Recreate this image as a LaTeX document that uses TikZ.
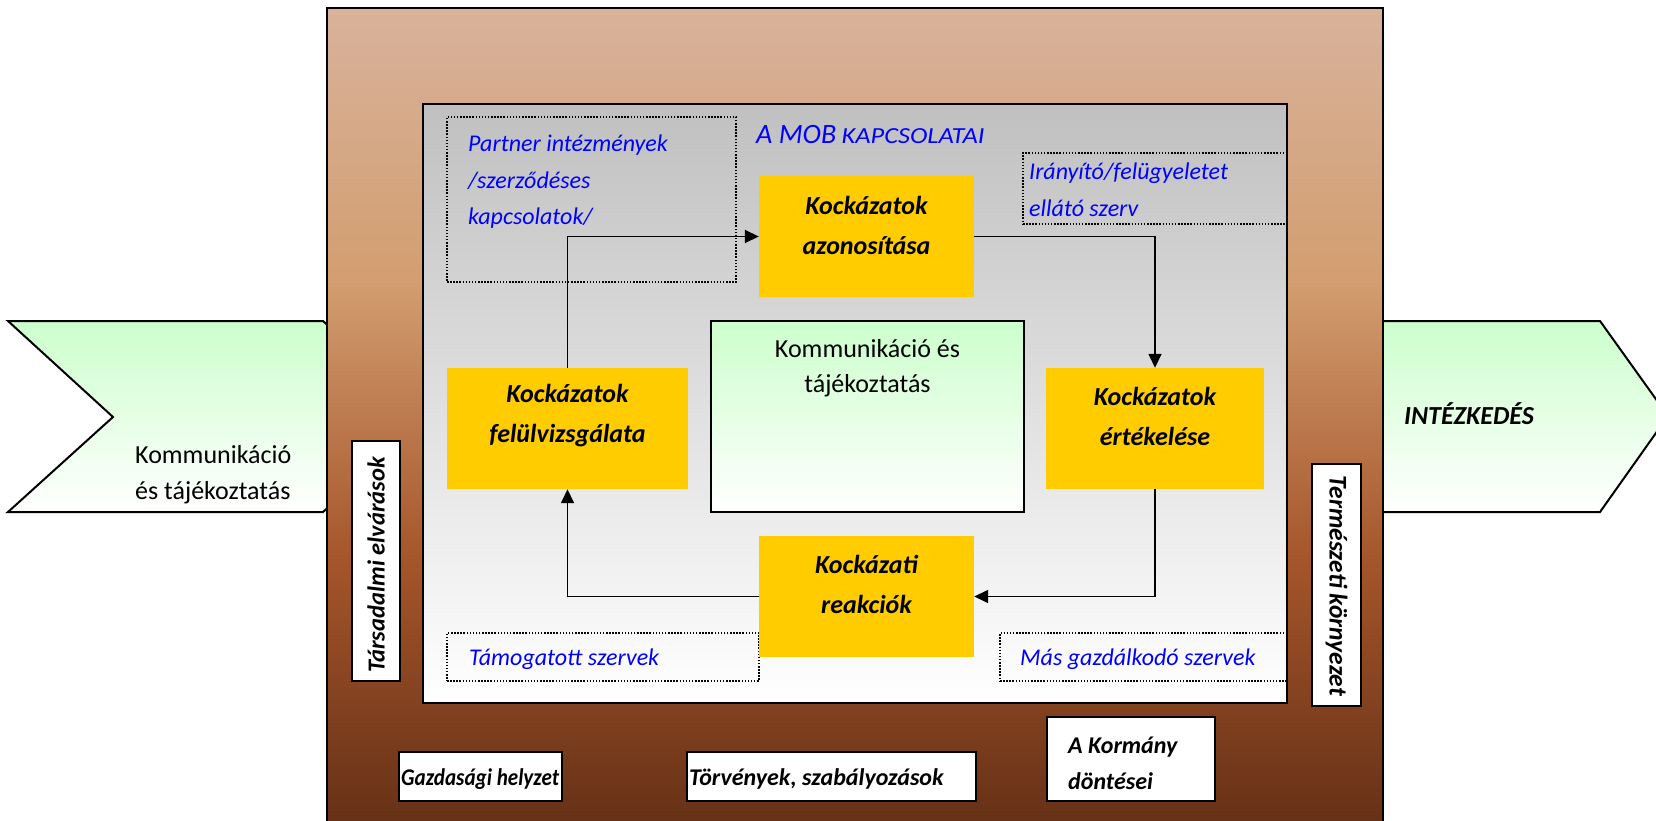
\documentclass[tikz,border=0pt]{standalone}
\usepackage{fontspec}
\usepackage{graphicx}
\setmainfont{Carlito}
\usetikzlibrary{arrows.meta}
\definecolor{ylw}{RGB}{255,204,0}
\definecolor{grn}{RGB}{204,255,204}
\definecolor{blu}{RGB}{0,0,255}
\definecolor{brA}{RGB}{216,178,155}
\definecolor{brB}{RGB}{211,158,112}
\definecolor{brC}{RGB}{165,85,42}
\definecolor{brD}{RGB}{100,48,22}
\definecolor{gryT}{RGB}{192,192,192}
\definecolor{gryB}{RGB}{255,255,255}
\begin{document}
\begin{tikzpicture}[x=1pt,y=-1pt,
  ybox/.style={fill=ylw, draw=none, minimum height=121pt, inner sep=0pt},
  ytxt/.style={font=\fontsize{26}{40}\selectfont\bfseries\itshape, align=center, inner sep=0pt},
  dotbox/.style={draw=black, line width=1.5pt, dash pattern=on 1.5pt off 1.6pt, inner sep=0pt},
  btxt/.style={font=\fontsize{24}{36.5}\selectfont\itshape, text=blu, align=left, inner sep=0pt, anchor=west},
  wbox/.style={fill=white, draw=black, line width=2pt, inner sep=0pt},
  wtxt/.style={font=\fontsize{24}{36}\selectfont\bfseries\itshape, inner sep=0pt, align=left},
  rtxt/.style={font=\fontsize{26}{36}\selectfont, inner sep=0pt},
  conn/.style={line width=1.6pt, -{Triangle[length=14pt,width=13pt]}},
]
\useasboundingbox (0,0) rectangle (1656,821);
\begin{scope}
\clip (0,0) rectangle (1656,821);
% left arrow
\shade[top color=grn, bottom color=white, draw=black, line width=2pt, line join=miter]
  (8,321) -- (323,321) -- (333,330) -- (333,503) -- (323,512) -- (8,512) -- (113,417) -- cycle;
\node[rtxt, anchor=west] (lt1) at (135,455) {Kommunikáció};
\node[rtxt, anchor=west] (lt2) at (135,493) {és tájékoztatás};
% right arrow
\shade[top color=grn, bottom color=white, draw=black, line width=2pt, line join=miter]
  (1375,321) -- (1600,321) -- (1668,416) -- (1600,512) -- (1375,512) -- cycle;
\node[font=\fontsize{26}{30}\selectfont\bfseries\itshape, inner sep=0pt, anchor=west] (intez) at (1404,414) {INTÉZKEDÉS};
% outer brown box
\shade[top color=brA, bottom color=brB] (327,8) rectangle (1383,281);
\shade[top color=brB, bottom color=brC] (327,280) rectangle (1383,561);
\shade[top color=brC, bottom color=brD] (327,560) rectangle (1383,830);
\draw[line width=2pt] (327,830) -- (327,8) -- (1383,8) -- (1383,830);
\end{scope}
% inner gray box
\node[top color=gryT, bottom color=gryB, draw=black, line width=2pt, inner sep=0pt,
  minimum width=864pt, minimum height=599pt] (inner) at (855,403.5) {};
% dotted boxes
\node[dotbox, minimum width=289pt, minimum height=165pt] (partner) at (591.5,199.5) {};
\node[dotbox, minimum width=264pt, minimum height=71pt] (iran) at (1155,188.5) {};
\node[dotbox, minimum width=312pt, minimum height=48pt] (tamog) at (603,657) {};
\node[dotbox, minimum width=287pt, minimum height=48pt] (mas) at (1143.5,657) {};
\node[btxt] (partnert) at (468,182) {Partner intézmények\\/szerződéses\\kapcsolatok/};
\node[btxt] (irant) at (1029,190) {Irányító/felügyeletet\\ellátó szerv};
\node[btxt] (tamogt) at (469,659) {Támogatott szervek};
\node[btxt] (mast) at (1020,659) {Más gazdálkodó szervek};
\node[btxt] (mob) at (756,135) {{\fontsize{28}{30}\selectfont A MOB} \scalebox{1.15}[1]{\fontsize{23}{30}\selectfont KAPCSOLATAI}};
% center box
\node[top color=grn, bottom color=white, draw=black, line width=2pt, inner sep=0pt,
  minimum width=313pt, minimum height=191pt] (center) at (867.5,416.5) {};
\node[rtxt, align=center, font=\fontsize{26}{35}\selectfont] (centert) at (867.5,368) {Kommunikáció és\\tájékoztatás};
% yellow boxes
\node[ybox, minimum width=215pt] (azo) at (866.5,236.5) {};
\node[ybox, minimum width=241pt] (fel) at (567.5,428.5) {};
\node[ybox, minimum width=218pt] (ert) at (1155,428.5) {};
\node[ybox, minimum width=215pt] (rea) at (866.5,596.5) {};
\node[ytxt] (azot) at (866.5,225) {Kockázatok\\azonosítása};
\node[ytxt] (felt) at (567.5,416) {Kockázatok\\felülvizsgálata};
\node[ytxt] (ertt) at (1155,416) {Kockázatok\\értékelése};
\node[ytxt] (reat) at (866.5,584) {Kockázati\\reakciók};
% connectors
\draw[conn] (fel.north) |- (azo.west);
\draw[conn] (azo.east) -| (ert.north);
\draw[conn] (ert.south) |- (rea.east);
\draw[conn] (rea.west) -| (fel.south);
% side white boxes
\node[wbox, minimum width=48pt, minimum height=240pt] (tars) at (376,561) {};
\node[wtxt, rotate=90, font=\fontsize{24.5}{30}\selectfont\bfseries\itshape] (tarst) at (376,565) {Társadalmi elvárások};
\node[wbox, minimum width=49pt, minimum height=242pt] (term) at (1336.5,585) {};
\node[wtxt, rotate=-90, font=\fontsize{25.5}{30}\selectfont\bfseries\itshape] (termt) at (1336.5,586) {Természeti környezet};
% bottom white boxes
\node[wbox, minimum width=163pt, minimum height=49pt] (gazd) at (480.5,776.5) {};
\node[wtxt, anchor=west] (gazdt) at (401,779) {\scalebox{0.88}[1]{Gazdasági helyzet}};
\node[wbox, minimum width=289pt, minimum height=49pt] (torv) at (831.5,776.5) {};
\node[wtxt, anchor=west] (torvt) at (689,779) {Törvények, szabályozások};
\node[wbox, minimum width=168pt, minimum height=84pt] (korm) at (1131,759) {};
\node[wtxt, anchor=west] (kormt) at (1068,763) {A Kormány\\döntései};
\end{tikzpicture}
\end{document}
